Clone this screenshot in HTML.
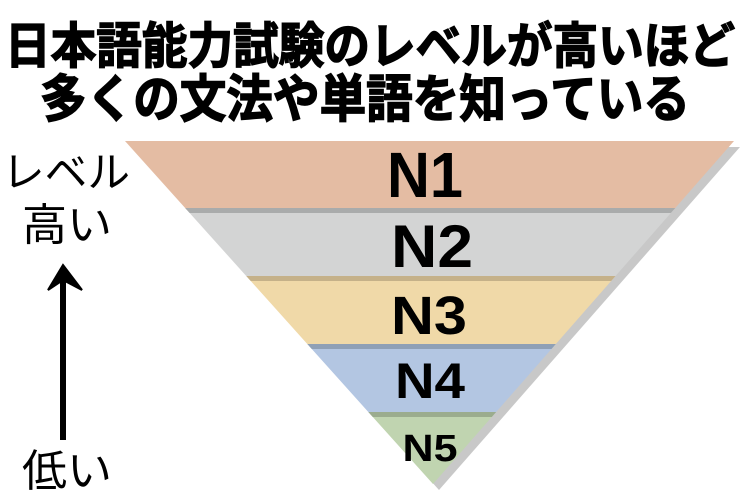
<!DOCTYPE html>
<html><head><meta charset="utf-8"><style>
html,body{margin:0;padding:0;background:#fff;}
svg{display:block;}
</style></head><body>
<svg width="740" height="494" viewBox="0 0 740 494" xmlns="http://www.w3.org/2000/svg">
<g font-family="'Liberation Sans','Noto Sans CJK JP',sans-serif" font-weight="bold" fill="#000" stroke="#000" stroke-width="1.5">
<text x="5" y="63" font-size="49" textLength="730" lengthAdjust="spacingAndGlyphs">日本語能力試験のレベルが高いほど</text>
<text x="40" y="117" font-size="51" textLength="650" lengthAdjust="spacingAndGlyphs">多くの文法や単語を知っている</text>
</g>
<g font-family="'Liberation Sans','Noto Sans CJK JP',sans-serif" fill="#000">
<text x="2" y="187" font-size="42" textLength="128" lengthAdjust="spacingAndGlyphs">レベル</text>
<text x="22" y="240" font-size="44" textLength="90" lengthAdjust="spacingAndGlyphs">高い</text>
<text x="22" y="486" font-size="44" textLength="90" lengthAdjust="spacingAndGlyphs">低い</text>
</g>
<line x1="63" y1="280" x2="63" y2="440" stroke="#000" stroke-width="6"/>
<polygon points="63,265 82,290 63,280 48,290" fill="#000" stroke="#000" stroke-width="2" stroke-linejoin="miter"/>
<polygon points="131,147 740,147 439,490" fill="#c8c8c8"/>
<defs><clipPath id="tri"><polygon points="125,141 734,141 433,484"/></clipPath></defs>
<g clip-path="url(#tri)">
<rect x="100" y="141" width="650" height="69" fill="#e4bca3"/>
<rect x="100" y="210" width="650" height="68" fill="#d3d4d4"/>
<rect x="100" y="278" width="650" height="68" fill="#f0d9a8"/>
<rect x="100" y="346" width="650" height="68" fill="#b3c6e2"/>
<rect x="100" y="414" width="650" height="80" fill="#c0d4b0"/>
<rect x="100" y="208" width="650" height="5" fill="#a9abab"/>
<rect x="100" y="276" width="650" height="5" fill="#c5b189"/>
<rect x="100" y="344" width="650" height="5" fill="#8fa0b6"/>
<rect x="100" y="412" width="650" height="5" fill="#9bac8e"/>
</g>
<g font-family="'Liberation Sans',sans-serif" font-weight="bold" fill="#000" text-anchor="middle">
<text x="425" y="197" font-size="64" textLength="76" lengthAdjust="spacingAndGlyphs">N1</text>
<text x="432" y="267" font-size="60" textLength="82" lengthAdjust="spacingAndGlyphs">N2</text>
<text x="429" y="334" font-size="54" textLength="76" lengthAdjust="spacingAndGlyphs">N3</text>
<text x="430" y="398" font-size="50" textLength="70" lengthAdjust="spacingAndGlyphs">N4</text>
<text x="430" y="461" font-size="38" textLength="55" lengthAdjust="spacingAndGlyphs">N5</text>
</g>
</svg>
</body></html>
